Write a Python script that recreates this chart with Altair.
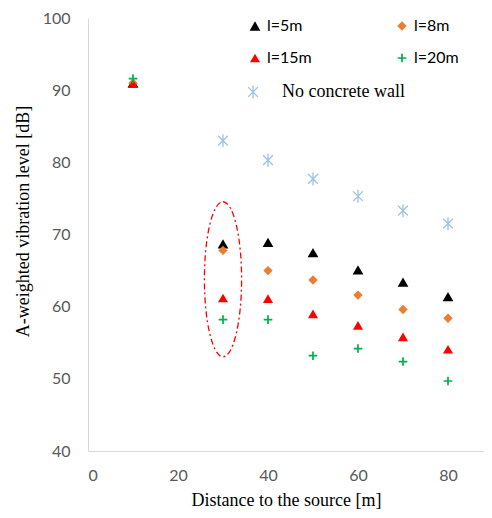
import altair as alt
import pandas as pd

# ---- data ----
distance = [10, 30, 40, 50, 60, 70, 80]
l5 = [91.0, 68.7, 68.9, 67.5, 65.1, 63.4, 61.4]
l8 = [91.0, 67.8, 65.0, 63.7, 61.6, 59.6, 58.4]
l15 = [90.9, 61.2, 61.1, 59.0, 57.4, 55.8, 54.1]
l20 = [91.6, 58.2, 58.2, 53.2, 54.2, 52.4, 49.7]
no_wall_distance = [30, 40, 50, 60, 70, 80]
no_wall = [83.0, 80.3, 77.7, 75.3, 73.3, 71.5]

series_names = ["l=5m", "l=8m", "l=15m", "l=20m"]
series_values = [l5, l8, l15, l20]
# legend fills column by column -> order so rows read l=5m, l=8m / l=15m, l=20m
legend_order = ["l=5m", "l=15m", "l=8m", "l=20m"]
plus = "M-1,-0.2H-0.2V-1H0.2V-0.2H1V0.2H0.2V1H-0.2V0.2H-1Z"
style = {
    "l=5m": ("#000000", "triangle-up", 115),
    "l=8m": ("#ED7D31", "diamond", 30),
    "l=15m": ("#FF0000", "triangle-up", 75),
    "l=20m": ("#00B050", plus, 95),
}

nowall_name = ["No concrete wall"]
nowall_color = ["#9DC3E6"]

# highlighted group (ellipse annotation)
ellipse_x = [30]
ellipse_y = [63.8]

rows = []
for name, vals in zip(series_names, series_values):
    for d, v in zip(distance, vals):
        rows.append({"distance": d, "level": v, "series": name})
df = pd.DataFrame(rows)
df_nw = pd.DataFrame({"distance": no_wall_distance, "level": no_wall,
                      "series": nowall_name * len(no_wall)})
df_el = pd.DataFrame({"distance": ellipse_x, "level": ellipse_y})

asterisk = "M0,-1L0,1M-0.75,-0.75L0.75,0.75M-0.75,0.75L0.75,-0.75"
r = 0.24
k = 0.5523
ellipse_path = (f"M0,-1C{k*r:.4f},-1 {r},{-k:.4f} {r},0"
                f"C{r},{k:.4f} {k*r:.4f},1 0,1"
                f"C{-k*r:.4f},1 {-r},{k:.4f} {-r},0"
                f"C{-r},{-k:.4f} {-k*r:.4f},-1 0,-1Z")

xscale = alt.Scale(domain=[0, 88], nice=False)
yscale = alt.Scale(domain=[40, 100], nice=False)
xaxis = alt.Axis(values=[0, 20, 40, 60, 80], title="Distance to the source [m]",
                 labelPadding=16, titlePadding=8)
yaxis = alt.Axis(values=[40, 50, 60, 70, 80, 90, 100],
                 title="A-weighted vibration level [dB]",
                 labelPadding=18, titlePadding=10, titleY=203)

leg1 = alt.Legend(orient="none", legendX=159, legendY=0, columns=2,
                  columnPadding=82, rowPadding=16, title=None,
                  labelFont="Lato", labelFontSize=16, labelColor="#000000",
                  symbolStrokeWidth=0)

base_pts = alt.Chart(df).mark_point(filled=True, opacity=1).encode(
    x=alt.X("distance:Q", scale=xscale, axis=xaxis),
    y=alt.Y("level:Q", scale=yscale, axis=yaxis),
    color=alt.Color("series:N", scale=alt.Scale(domain=legend_order, range=[style[s][0] for s in legend_order]), legend=leg1),
    shape=alt.Shape("series:N", scale=alt.Scale(domain=legend_order, range=[style[s][1] for s in legend_order]), legend=leg1),
    size=alt.Size("series:N", scale=alt.Scale(domain=legend_order, range=[style[s][2] for s in legend_order]), legend=leg1),
)

leg2 = alt.Legend(orient="none", legendX=156, legendY=65, title=None,
                  labelFont="Liberation Serif", labelFontSize=18, labelColor="#000000",
                  labelOffset=20, symbolSize=170, symbolStrokeWidth=1.3,
                  symbolFillColor="transparent")

nw_pts = alt.Chart(df_nw).mark_point(filled=False, size=170, strokeWidth=1.3, opacity=1).encode(
    x=alt.X("distance:Q", scale=xscale, axis=xaxis),
    y=alt.Y("level:Q", scale=yscale, axis=yaxis),
    color=alt.Color("series:N", scale=alt.Scale(domain=nowall_name, range=nowall_color), legend=leg2),
    shape=alt.Shape("series:N", scale=alt.Scale(domain=nowall_name, range=[asterisk]), legend=leg2),
)

ellipse = alt.Chart(df_el).mark_point(
    shape=ellipse_path, size=155 * 155, filled=False, stroke="#FF0000",
    strokeWidth=1.3, strokeDash=[6, 3, 2, 3], opacity=1
).encode(
    x=alt.X("distance:Q", scale=xscale, axis=xaxis),
    y=alt.Y("level:Q", scale=yscale, axis=yaxis),
)

chart = alt.layer(base_pts, nw_pts, ellipse).resolve_scale(
    color="independent", shape="independent", size="independent"
).properties(
    width=396, height=433,
    autosize=alt.AutoSizeParams(type="none"),
    padding={"left": 80, "top": 10, "right": 0, "bottom": 59},
).configure_view(stroke=None).configure_axis(
    domainColor="#D9D9D9", domainWidth=1, ticks=False, grid=False,
    labelColor="#595959", labelFont="Lato", labelFontSize=16,
    titleFont="Liberation Serif", titleFontSize=18, titleFontWeight="normal",
    titleColor="#000000",
)

chart.save("out.html", embed_options={"renderer": "svg", "actions": False})
